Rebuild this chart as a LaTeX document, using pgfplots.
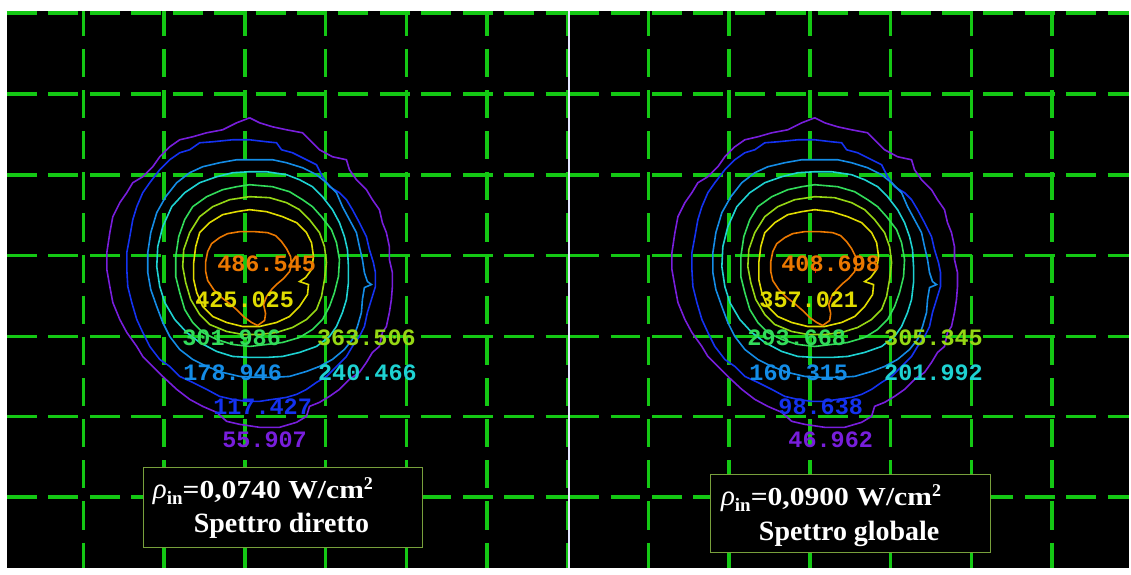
\documentclass[border=0pt]{standalone}
\usepackage{pgfplots}
\usepackage{pgfplotstable}
\pgfplotsset{compat=1.18}
\usepackage{fontspec}
\setmainfont{Liberation Serif}
\newfontfamily\lblfont{Liberation Mono}
\definecolor{gridgreen}{RGB}{20,200,20}
\definecolor{cA}{RGB}{120,30,220}
\definecolor{cB}{RGB}{20,50,240}
\definecolor{cC}{RGB}{20,140,230}
\definecolor{cD}{RGB}{30,210,210}
\definecolor{cE}{RGB}{50,220,90}
\definecolor{cF}{RGB}{150,215,20}
\definecolor{cG}{RGB}{225,220,0}
\definecolor{cH}{RGB}{235,120,0}
\definecolor{boxgreen}{RGB}{120,160,60}
\tikzset{lbl/.style={font=\lblfont\bfseries\fontsize{23.5}{24}\selectfont, inner sep=0pt}}

\pgfplotstableread{
x y
250 118
260 123
273 127
287 130
303 133
313 143
320 150
333 157
347 160
350 170
357 180
367 190
373 200
380 210
383 223
387 233
390 247
390 260
393 273
393 287
392 300
390 313
387 327
383 333
380 347
373 353
367 363
360 373
350 380
340 390
330 397
320 403
310 407
307 417
297 423
280 428
260 428
240 425
227 422
217 413
203 407
190 400
177 390
163 377
153 367
143 357
137 347
127 333
120 320
113 303
110 287
107 270
107 253
110 233
113 217
120 203
127 193
133 183
143 177
153 167
160 157
170 147
180 140
193 137
207 133
223 130
237 123
250 118
}\cA
\pgfplotstableread{
x y
250 140
267 142
277 143
282 150
293 153
303 158
317 165
323 177
330 187
340 193
347 200
353 210
360 223
367 237
370 250
374 263
376 273
376 287
372 300
368 313
365 327
360 337
353 347
347 357
337 367
327 377
317 383
307 390
297 395
287 398
273 400
260 402
247 402
233 400
220 397
207 390
193 383
180 377
170 367
160 360
150 347
143 333
137 320
132 303
128 287
127 270
127 253
130 237
133 220
137 207
143 193
150 183
160 170
170 160
180 153
190 150
200 143
213 142
233 140
250 140
}\cB
\pgfplotstableread{
x y
250 160
273 160
287 163
303 168
317 175
327 183
337 193
343 207
350 220
357 233
360 247
363 260
365 273
368 282
372 285
365 288
363 300
362 313
358 327
353 340
345 350
333 360
320 367
307 372
290 377
273 378
257 378
240 377
223 373
207 367
193 360
180 350
170 337
163 323
157 307
151 290
148 273
148 253
151 233
157 213
166 197
177 183
190 173
203 167
220 163
237 160
250 160
}\cC
\pgfplotstableread{
x y
250 172
267 172
287 175
300 180
313 187
323 197
333 210
340 223
345 237
348 250
349 267
349 283
347 300
343 313
337 327
330 337
317 347
300 353
283 357
267 358
250 358
233 357
217 352
200 343
187 333
175 320
165 303
160 287
157 267
158 247
163 227
172 207
185 193
200 183
217 177
233 173
250 172
}\cD
\pgfplotstableread{
x y
250 185
273 187
290 192
303 200
313 207
322 217
332 230
337 243
340 260
339 277
335 293
330 307
323 320
313 330
300 338
283 343
267 345
250 347
233 345
217 340
203 333
193 323
185 310
180 293
176 277
176 257
179 237
185 220
193 207
207 197
223 190
237 187
250 185
}\cE
\pgfplotstableread{
x y
250 197
270 198
287 203
300 210
310 220
320 233
325 247
327 263
325 280
322 297
317 310
307 320
293 328
277 333
260 335
243 335
227 332
210 325
200 315
191 300
186 283
183 267
184 250
190 233
200 217
213 207
230 200
250 197
}\cF
\pgfplotstableread{
x y
250 210
267 212
283 217
297 223
307 233
312 243
314 257
312 270
306 278
300 282
309 285
308 295
300 307
290 317
277 323
260 327
243 327
227 323
213 317
203 307
197 293
194 280
194 263
196 247
200 233
210 223
223 215
237 212
250 210
}\cG
\pgfplotstableread{
x y
220 238
228 234
240 232
255 232
268 233
276 236
282 242
287 249
291 257
292 265
290 272
284 279
278 284
272 290
267 297
264 305
266 314
265 321
258 326
252 323
245 318
238 311
231 305
222 298
214 290
208 281
206 272
206 262
208 252
212 244
220 238
}\cH

\pgfplotsset{panel/.style={
  scale only axis, anchor=north west,
  ymin=11, ymax=569, height=558pt, y dir=reverse,
  axis background/.style={fill=black},
  axis line style={draw=none},
  xtick={83.6,164.4,245.3,326.1,407,487.8,568.7},
  ytick={13,94,175,256,337,417,498},
  xticklabels={}, yticklabels={},
  major tick length=0pt,
  grid=major,
  x grid style={gridgreen, line width=3.6pt, dash pattern=on 28.2pt off 13pt, dash phase=3.2pt},
  y grid style={gridgreen, line width=3.6pt, dash pattern=on 30pt off 11.5pt},
  every axis plot/.append style={line width=1.6pt, mark=none},
}}

\begin{document}
\begin{tikzpicture}
\fill[white] (0pt,0pt) rectangle (1131pt,-569pt);
% left panel
\begin{axis}[panel, at={(7pt,-11pt)}, xmin=7, xmax=570, width=563pt]
\addplot[cA] table {\cA};
\addplot[cB] table {\cB};
\addplot[cC] table {\cC};
\addplot[cD] table {\cD};
\addplot[cE] table {\cE};
\addplot[cF] table {\cF};
\addplot[cG] table {\cG};
\addplot[cH] table {\cH};
\node[lbl, text=cH] at (axis cs:267,264) {486.545};
\node[lbl, text=cG] at (axis cs:245,300) {425.025};
\node[lbl, text=cE] at (axis cs:232,338) {301.986};
\node[lbl, text=cF] at (axis cs:367,338) {363.506};
\node[lbl, text=cC] at (axis cs:233,373) {178.946};
\node[lbl, text=cD] at (axis cs:368,373) {240.466};
\node[lbl, text=cB] at (axis cs:263,407) {117.427};
\node[lbl, text=cA] at (axis cs:265,440) {55.907};
\draw[boxgreen, line width=1.2pt, fill=black] (axis cs:144,468) rectangle (axis cs:423,548);
\node[anchor=base west, inner sep=0pt, text=white] at (axis cs:153,499)
 {\fontsize{29}{29}\selectfont\itshape ρ\raisebox{-6pt}{\bfseries\upshape\fontsize{19}{19}\selectfont in}\upshape\bfseries\scalebox{1.14}[1]{\fontsize{26}{26}\selectfont =0,0740 W/cm}\raisebox{9pt}{\fontsize{18}{18}\selectfont 2}};
\node[anchor=base west, inner sep=0pt, text=white] at (axis cs:194,533)
 {\fontsize{28}{28}\selectfont\bfseries Spettro diretto};
\end{axis}
% right panel
\begin{axis}[panel, at={(570pt,-11pt)}, xmin=4, xmax=565, width=561pt]
\addplot[cA] table {\cA};
\addplot[cB] table {\cB};
\addplot[cC] table {\cC};
\addplot[cD] table {\cD};
\addplot[cE] table {\cE};
\addplot[cF] table {\cF};
\addplot[cG] table {\cG};
\addplot[cH] table {\cH};
\addplot[red, line width=1.2pt] coordinates {(251,267) (251,273)};
\node[lbl, text=cH] at (axis cs:266,264) {408.698};
\node[lbl, text=cG] at (axis cs:244,300) {357.021};
\node[lbl, text=cE] at (axis cs:232,338) {293.668};
\node[lbl, text=cF] at (axis cs:369,338) {305.345};
\node[lbl, text=cC] at (axis cs:234,373) {160.315};
\node[lbl, text=cD] at (axis cs:369,373) {201.992};
\node[lbl, text=cB] at (axis cs:256,407) {98.638};
\node[lbl, text=cA] at (axis cs:266,440) {46.962};
\draw[boxgreen, line width=1.2pt, fill=black] (axis cs:146,475) rectangle (axis cs:426,553);
\node[anchor=base west, inner sep=0pt, text=white] at (axis cs:156,506)
 {\fontsize{29}{29}\selectfont\itshape ρ\raisebox{-6pt}{\bfseries\upshape\fontsize{19}{19}\selectfont in}\upshape\bfseries\scalebox{1.14}[1]{\fontsize{26}{26}\selectfont =0,0900 W/cm}\raisebox{9pt}{\fontsize{18}{18}\selectfont 2}};
\node[anchor=base west, inner sep=0pt, text=white] at (axis cs:194,541)
 {\fontsize{28}{28}\selectfont\bfseries Spettro globale};
\end{axis}
\draw[white!90!blue, line width=1.5pt] (570pt,-11pt) -- (570pt,-569pt);
\end{tikzpicture}
\end{document}
